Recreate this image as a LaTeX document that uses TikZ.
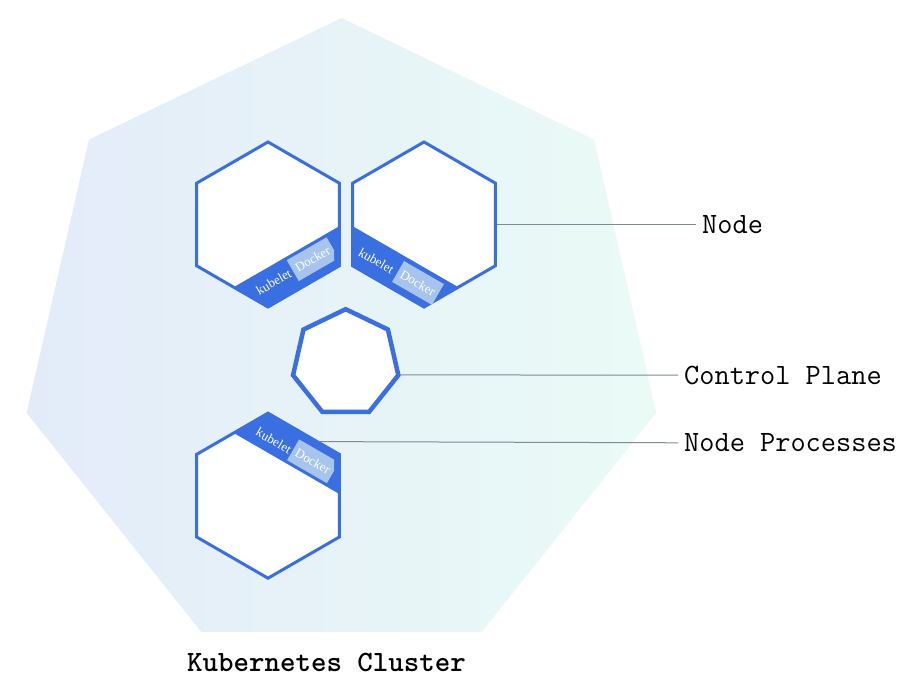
\documentclass[tikz,border=0pt]{standalone}
\usepackage{fontspec}
\usetikzlibrary{shapes.geometric,calc}
\newfontfamily\procfont{Liberation Serif}
\definecolor{kblau}{HTML}{3A6FE2}
\definecolor{dockerblau}{HTML}{A6C4EC}
\definecolor{linie}{HTML}{7F8A96}
\definecolor{clusterlinks}{HTML}{E3EBF9}
\definecolor{clusterrechts}{HTML}{EAFBF6}

\begin{document}
\begin{tikzpicture}[x=1pt,y=1pt,
  hexknoten/.style={regular polygon, regular polygon sides=6, shape border rotate=30,
    minimum size=165pt, inner sep=0pt, draw=kblau, line width=3pt, fill=white},
  band/.style={fill=kblau},
  kubelettext/.style={font=\procfont\fontsize{13}{14}\selectfont, text=white, inner sep=0pt},
  dockerbox/.style={fill=dockerblau, minimum width=46pt, minimum height=24pt, inner sep=0pt,
    font=\procfont\fontsize{13}{14}\selectfont, text=white},
  lbl/.style={font=\ttfamily\fontsize{29.5}{32}\selectfont, anchor=west, inner xsep=6pt, inner ysep=0pt},
  zeiger/.style={draw=linie, line width=1pt}]
\useasboundingbox (0,0) rectangle (918,700);

% Cluster
\node[regular polygon, regular polygon sides=7, minimum size=646pt, inner sep=0pt,
  left color=clusterlinks, right color=clusterrechts] (cluster) at (341.5,359) {};
\node[font=\ttfamily\bfseries\fontsize{29.5}{32}\selectfont] (clustername) at (326.5,38) {Kubernetes Cluster};

% Nodes
\node[hexknoten] (h1) at (268,475.5) {};
\node[hexknoten] (h2) at (424,475.5) {};
\node[hexknoten] (h3) at (268,204.3) {};

% Control plane
\node[regular polygon, regular polygon sides=7, minimum size=108pt, inner sep=0pt,
  draw=kblau, line width=4.5pt, fill=white] (cp) at (345.7,336.8) {};

% Node processes
\fill[band] ($(h1)+(-30:82.5)$) -- ($($(h1)+(-30:82.5)$)!0.48!($(h1)+(30:82.5)$)$)
  -- ($($(h1)+(-90:82.5)$)!0.48!($(h1)+(-150:82.5)$)$) -- ($(h1)+(-90:82.5)$) -- cycle;
\fill[band] ($(h2)+(-150:82.5)$) -- ($($(h2)+(-150:82.5)$)!0.48!($(h2)+(150:82.5)$)$)
  -- ($($(h2)+(-90:82.5)$)!0.48!($(h2)+(-30:82.5)$)$) -- ($(h2)+(-90:82.5)$) -- cycle;
\fill[band] ($(h3)+(90:82.5)$) -- ($($(h3)+(90:82.5)$)!0.48!($(h3)+(150:82.5)$)$)
  -- ($($(h3)+(30:82.5)$)!0.48!($(h3)+(-30:82.5)$)$) -- ($(h3)+(30:82.5)$) -- cycle;

\node[kubelettext, rotate=30] (kub1) at ($(h1)+(5.8,-57.5)$) {kubelet};
\begin{scope}
  \clip (0,0) rectangle (334,700);
  \node[dockerbox, rotate=30] (dock1) at ($(h1)+(44.7,-34.7)$) {Docker};
\end{scope}
\node[kubelettext, rotate=-30] (kub2) at ($(h2)+(-47.7,-36.3)$) {kubelet};
\node[dockerbox, rotate=-30] (dock2) at ($(h2)+(-6,-58.5)$) {Docker};
\node[kubelettext, rotate=-30] (kub3) at ($(h3)+(5.8,55.2)$) {kubelet};
\begin{scope}
  \clip (0,0) rectangle (334,700);
  \node[dockerbox, rotate=-30] (dock3) at ($(h3)+(45,34.4)$) {Docker};
\end{scope}

% Labels
\node[lbl] (lnode) at (696,475.5) {Node};
\node[lbl] (lcp) at (678,324.8) {Control Plane};
\node[lbl] (lproc) at (678,257.2) {Node Processes};

\draw[zeiger] (h2.east) -- (lnode.west);
\draw[zeiger] (cp.-12.86) -- (lcp.west);
\draw[zeiger] (h3.46) -- (lproc.west);
\end{tikzpicture}
\end{document}
